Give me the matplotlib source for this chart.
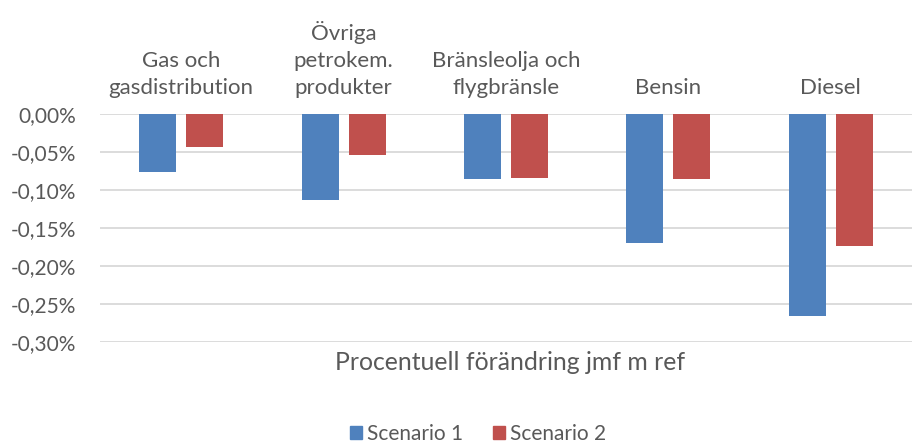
import matplotlib.pyplot as plt
import numpy as np
from matplotlib.patches import Patch
from matplotlib.transforms import blended_transform_factory

plt.rcParams['font.family'] = ['Lato', 'DejaVu Sans']

# Data
kategorier = ['Gas och\ngasdistribution', 'Övriga\npetrokem.\nprodukter',
              'Bränsleolja och\nflygbränsle', 'Bensin', 'Diesel']
scenario1 = [-0.076, -0.113, -0.086, -0.169, -0.266]
scenario2 = [-0.044, -0.054, -0.084, -0.085, -0.1735]
yticks = [0.0, -0.05, -0.10, -0.15, -0.20, -0.25, -0.30]

blue = '#4F81BD'
red = '#C0504D'
grey = '#595959'

fig = plt.figure(figsize=(9.13, 4.43), dpi=100)
ax = fig.add_axes([100 / 913, 1 - 342.3 / 443, 812 / 913, (342.3 - 114) / 443])

x = np.arange(len(kategorier))
w = 0.228
ax.bar(x - 0.145, scenario1, w, color=blue, zorder=3)
ax.bar(x + 0.145, scenario2, w, color=red, zorder=3)

ax.set_xlim(-0.5, 4.5)
ax.set_ylim(-0.30, 0)
ax.set_yticks(yticks)
ax.set_yticklabels([f'{v:.2f}%'.replace('.', ',') for v in yticks])
ax.yaxis.grid(True, color='#D9D9D9', linewidth=1.3, zorder=0)
ax.set_xticks([])
for s in ax.spines.values():
    s.set_visible(False)
ax.tick_params(axis='y', length=0, pad=17, labelsize=15, labelcolor=grey)
ax.set_axisbelow(True)

# Kategorietiketter ovanför nollinjen
trans = blended_transform_factory(ax.transData, fig.transFigure)
for xi, lab in zip(x, kategorier):
    ax.text(xi, 1 - 98 / 443, lab, transform=trans, ha='center', va='bottom',
            fontsize=16, color=grey, linespacing=1.45)

fig.text(510 / 913, 1 - 363 / 443, 'Procentuell förändring jmf m ref',
         ha='center', va='center', fontsize=17.8, color=grey)

handles = [Patch(color=blue, label='Scenario 1'), Patch(color=red, label='Scenario 2')]
fig.legend(handles=handles, loc='center', bbox_to_anchor=(478 / 913, 1 - 434 / 443),
           ncol=2, frameon=False, fontsize=15, labelcolor=grey,
           handlelength=0.6, handleheight=0.6, handletextpad=0.25, columnspacing=1.4)

fig.savefig('out.png', dpi=100)
